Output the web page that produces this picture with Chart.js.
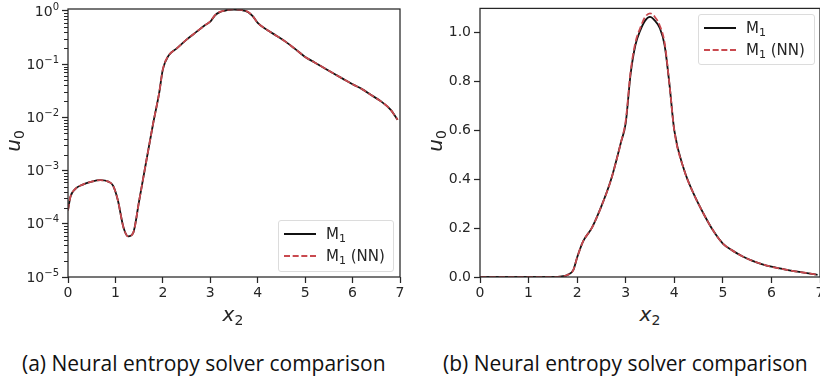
<!DOCTYPE html>
<html>
<head>
<meta charset="utf-8">
<script src="https://cdn.jsdelivr.net/npm/chart.js@4.4.1/dist/chart.umd.min.js"></script>
<style>
  body { margin: 0; width: 820px; height: 381px; overflow: hidden; background: #fff; position: relative; color: #262626; font-family: 'DejaVu Sans', sans-serif; }
  canvas { position: absolute; top: -1px; }
  #left { left: 0; }
  #right { left: 410px; top: -3px; }
  .lbl { position: absolute; font-style: italic; font-size: 20px; white-space: nowrap; transform: translate(-50%, -50%); }
  .lbl sub { font-size: 14px; vertical-align: -4px; font-style: normal; }
  .rot { transform: translate(-50%, -50%) rotate(-90deg); }
  .cap { position: absolute; font-family: 'Open Sans', sans-serif; font-size: 21px; line-height: 24px; white-space: nowrap; top: 351px; color: #111; }
  .legend { position: absolute; border: 1px solid #dcdcdc; border-radius: 3px; background: rgba(255,255,255,0.85); font-size: 15px; }
  .legend .row { position: absolute; left: 0; height: 20px; width: 100%; }
  .legend .sample { position: absolute; left: 5px; top: 9px; width: 32px; height: 0; }
  .legend .txt { position: absolute; left: 47px; top: 0; line-height: 20px; }
  .legend sub { font-size: 11px; vertical-align: -3px; }
</style>
</head>
<body>
<canvas id="left" width="410" height="305"></canvas>
<canvas id="right" width="430" height="305"></canvas>

<div class="lbl rot" style="left:14px;top:141px">u<sub>0</sub></div>
<div class="lbl rot" style="left:436px;top:141px">u<sub>0</sub></div>
<div class="lbl" style="left:233px;top:315px">x<sub>2</sub></div>
<div class="lbl" style="left:650px;top:315px">x<sub>2</sub></div>

<div class="cap" style="left:22px">(a) Neural entropy solver comparison</div>
<div class="cap" style="left:443px">(b) Neural entropy solver comparison</div>

<div class="legend" id="legLeft" style="left:278px;top:220px;width:114px;height:50px"></div>
<div class="legend" id="legRight" style="left:698px;top:14px;width:115px;height:49px"></div>

<script>
// x2 positions and u0 values
var xValues = [0, 0.05, 0.15, 0.3, 0.5, 0.68, 0.85, 0.95, 1.05, 1.17, 1.27, 1.37, 1.5, 1.65, 1.8, 1.92,
  2.0, 2.12, 2.3, 2.5, 2.7, 2.9, 3.0, 3.1, 3.2, 3.3, 3.4, 3.5, 3.6, 3.7, 3.8, 3.9, 4.0, 4.2, 4.4, 4.6, 4.8,
  5.0, 5.2, 5.4, 5.6, 5.8, 6.0, 6.2, 6.4, 6.6, 6.8, 6.95];
var m1Values = [1.8e-4, 3.2e-4, 4.5e-4, 5.4e-4, 6.2e-4, 6.6e-4, 6.2e-4, 5.2e-4, 2.8e-4, 8.5e-5, 5.8e-5, 6.6e-5,
  2.7e-4, 1.5e-3, 8.1e-3, 0.028, 0.08, 0.145, 0.2, 0.29, 0.4, 0.55, 0.63, 0.83, 0.95, 1.01, 1.05, 1.065, 1.05,
  1.02, 0.95, 0.79, 0.6, 0.44, 0.34, 0.26, 0.19, 0.137, 0.108, 0.085, 0.067, 0.053, 0.042, 0.034, 0.026, 0.02,
  0.014, 0.009];
var nnValues = [1.8e-4, 3.2e-4, 4.5e-4, 5.4e-4, 6.2e-4, 6.6e-4, 6.2e-4, 5.2e-4, 2.8e-4, 8.5e-5, 5.8e-5, 6.6e-5,
  2.7e-4, 1.5e-3, 8.1e-3, 0.028, 0.08, 0.145, 0.2, 0.29, 0.4, 0.55, 0.64, 0.84, 0.96, 1.02, 1.065, 1.08, 1.065,
  1.03, 0.96, 0.79, 0.6, 0.44, 0.34, 0.26, 0.19, 0.137, 0.108, 0.085, 0.067, 0.053, 0.042, 0.034, 0.026, 0.02,
  0.014, 0.009];
var seriesNames = ['M\u2081', 'M\u2081 (NN)'];
var xTicks = [0, 1, 2, 3, 4, 5, 6, 7];
var logTicks = [1e-5, 1e-4, 1e-3, 1e-2, 1e-1, 1];
var logExponents = ['\u22125', '\u22124', '\u22123', '\u22122', '\u22121', '0'];
var linTicks = [0, 0.2, 0.4, 0.6, 0.8, 1.0];

var ink = '#262626';
var red = '#c9494f';

function pts(vals) {
  return xValues.map(function(x, i) { return {x: x, y: vals[i]}; });
}

function datasets() {
  return [
    {label: seriesNames[0], data: pts(m1Values), borderColor: '#111', borderWidth: 1.8, order: 1},
    {label: seriesNames[1], data: pts(nnValues), borderColor: red, borderWidth: 1.8, borderDash: [6.5, 2.8], order: 0}
  ];
}

// box round the plot area; on the log axis also minor ticks and 10^n labels
var framePlugin = {
  id: 'frame',
  afterDraw: function(chart) {
    var a = chart.chartArea, c = chart.ctx;
    c.save();
    c.strokeStyle = ink;
    c.lineWidth = 1.25;
    c.strokeRect(a.left, a.top, a.right - a.left, a.bottom - a.top);
    var y = chart.scales.y;
    if (y.type === 'logarithmic') {
      c.lineWidth = 1;
      for (var k = -5; k < 0; k++) {
        for (var m = 2; m < 10; m++) {
          var py = Math.round(y.getPixelForValue(m * Math.pow(10, k))) + 0.5;
          c.beginPath();
          c.moveTo(a.left - 4, py);
          c.lineTo(a.left, py);
          c.stroke();
        }
      }
      c.fillStyle = ink;
      c.textBaseline = 'middle';
      c.textAlign = 'left';
      logTicks.forEach(function(v, i) {
        var ty = y.getPixelForValue(v);
        c.font = '10px "DejaVu Sans"';
        var ew = c.measureText(logExponents[i]).width;
        c.font = '14px "DejaVu Sans"';
        var bw = c.measureText('10').width;
        var right = a.left - 9;
        c.fillText('10', right - ew - bw, ty + 1);
        c.font = '10px "DejaVu Sans"';
        c.fillText(logExponents[i], right - ew, ty - 4);
      });
    }
    c.restore();
  }
};

function xScale(h) {
  return {
    type: 'linear', min: 0, max: 7,
    afterBuildTicks: function(s) { s.ticks = xTicks.map(function(v) { return {value: v}; }); },
    afterFit: function(s) { s.height = h; },
    grid: {drawOnChartArea: false, tickLength: 6, tickWidth: 1.25, tickColor: ink},
    border: {display: false},
    ticks: {color: ink, font: {family: 'DejaVu Sans', size: 14}, padding: 2, maxRotation: 0}
  };
}

new Chart(document.getElementById('left'), {
  type: 'line',
  data: {datasets: datasets()},
  options: {
    responsive: false, animation: false, devicePixelRatio: 1,
    layout: {padding: {top: 10, right: 10, left: 0, bottom: 0}},
    elements: {point: {radius: 0}, line: {cubicInterpolationMode: 'monotone'}},
    plugins: {legend: {display: false}, tooltip: {enabled: false}},
    scales: {
      x: xScale(27),
      y: {
        type: 'logarithmic', min: 1e-5, max: 1.09,
        afterBuildTicks: function(s) { s.ticks = logTicks.map(function(v) { return {value: v}; }); },
        afterFit: function(s) { s.width = 68; },
        grid: {drawOnChartArea: false, tickLength: 6, tickWidth: 1.25, tickColor: ink},
        border: {display: false},
        ticks: {display: false}
      }
    }
  },
  plugins: [framePlugin]
});

new Chart(document.getElementById('right'), {
  type: 'line',
  data: {datasets: datasets()},
  options: {
    responsive: false, animation: false, devicePixelRatio: 1,
    layout: {padding: {top: 10, right: 20, left: 0, bottom: 0}},
    elements: {point: {radius: 0}, line: {cubicInterpolationMode: 'monotone'}},
    plugins: {legend: {display: false}, tooltip: {enabled: false}},
    scales: {
      x: xScale(25),
      y: {
        type: 'linear', min: 0, max: 1.1,
        afterBuildTicks: function(s) { s.ticks = linTicks.map(function(v) { return {value: v}; }); },
        afterFit: function(s) { s.width = 70; },
        grid: {drawOnChartArea: false, tickLength: 6, tickWidth: 1.25, tickColor: ink},
        border: {display: false},
        ticks: {color: ink, font: {family: 'DejaVu Sans', size: 14}, padding: 3,
          callback: function(v) { return v.toFixed(1); }}
      }
    }
  },
  plugins: [framePlugin]
});

// legends built from the series names
function buildLegend(id) {
  var box = document.getElementById(id);
  var ds = datasets();
  ds.forEach(function(d, i) {
    var row = document.createElement('div');
    row.className = 'row';
    row.style.top = (3 + i * 22) + 'px';
    var s = document.createElement('div');
    s.className = 'sample';
    s.style.borderTop = d.borderDash ? '2px dashed ' + d.borderColor : '2px solid ' + d.borderColor;
    var t = document.createElement('div');
    t.className = 'txt';
    t.innerHTML = d.label.replace('\u2081', '<sub>1</sub>');
    row.appendChild(s);
    row.appendChild(t);
    box.appendChild(row);
  });
}
buildLegend('legLeft');
buildLegend('legRight');
</script>
</body>
</html>
